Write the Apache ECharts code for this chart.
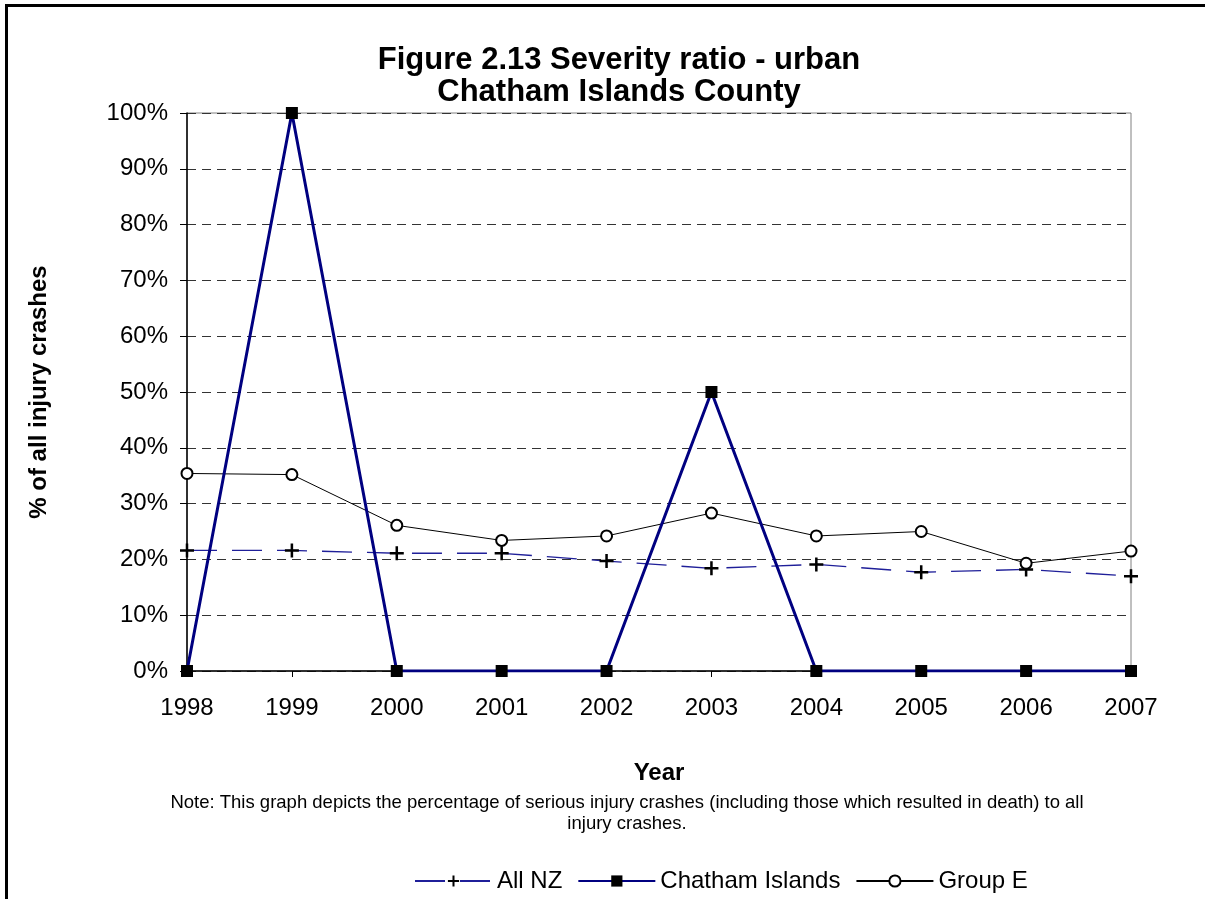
<!DOCTYPE html>
<html>
<head>
<meta charset="utf-8">
<script src="https://cdn.jsdelivr.net/npm/echarts@6/dist/echarts.min.js"></script>
<style>
html,body{margin:0;padding:0;background:#fff;}
#chart{width:1205px;height:899px;}
</style>
</head>
<body>
<div id="chart"></div>
<script>
const years = ['1998','1999','2000','2001','2002','2003','2004','2005','2006','2007'];
const allNZ = [21.6, 21.6, 21.1, 21.1, 19.7, 18.4, 19.1, 17.7, 18.2, 17.0];
const chatham = [0, 100, 0, 0, 0, 50, 0, 0, 0, 0];
const groupE = [35.4, 35.2, 26.1, 23.4, 24.2, 28.3, 24.2, 25.0, 19.3, 21.5];
const yTicks = [0,10,20,30,40,50,60,70,80,90,100];

const FONT = 'Liberation Sans, Arial, sans-serif';
const plusPath = 'path://M4.1,0 H5.9 V4.1 H10 V5.9 H5.9 V10 H4.1 V5.9 H0 V4.1 H4.1 Z';

const chart = echarts.init(document.getElementById('chart'));
chart.setOption({
  backgroundColor: '#fff',
  animation: false,
  textStyle: {fontFamily: FONT},
  title: {
    text: 'Figure 2.13 Severity ratio - urban\nChatham Islands County',
    left: 614, top: 39, textAlign: 'center',
    textStyle: {fontFamily: FONT, fontSize: 31, fontWeight: 'bold', color: '#000', lineHeight: 32}
  },
  grid: {left: 187, right: 74, top: 113, bottom: 228, show: true, borderColor: '#808080', borderWidth: 1, backgroundColor: 'transparent'},
  legend: {
    left: 409, top: 864,
    itemWidth: 77, itemHeight: 14, itemGap: 15,
    textStyle: {fontFamily: FONT, fontSize: 24, color: '#000', padding: [0,0,0,0]},
    data: ['All NZ', 'Chatham Islands', 'Group E']
  },
  xAxis: {
    type: 'category', data: years, boundaryGap: false,
    name: 'Year', nameLocation: 'middle', nameGap: 90,
    nameTextStyle: {fontFamily: FONT, fontSize: 24, fontWeight: 'bold', color: '#000'},
    axisLine: {lineStyle: {color: '#000', width: 1.5}},
    axisTick: {show: true, alignWithLabel: true, length: 6, lineStyle: {color: '#000'}},
    axisLabel: {fontFamily: FONT, fontSize: 24, color: '#000', margin: 25},
    splitLine: {show: false}
  },
  yAxis: {
    type: 'value', min: 0, max: 100, interval: 10,
    name: '% of all injury crashes', nameLocation: 'middle', nameGap: 136,
    nameTextStyle: {fontFamily: FONT, fontSize: 24, fontWeight: 'bold', color: '#000'},
    axisLine: {show: true, lineStyle: {color: '#000', width: 1.5}},
    axisTick: {show: true, length: 7, lineStyle: {color: '#000'}},
    axisLabel: {fontFamily: FONT, fontSize: 24, color: '#000', margin: 19,
      formatter: function(v){ return yTicks.indexOf(v) >= 0 ? v + '%' : ''; }},
    splitLine: {show: true, lineStyle: {color: '#333', type: [9,6], width: 1}}
  },
  series: [
    {
      name: 'All NZ', type: 'line', data: allNZ, z: 3,
      symbol: plusPath, symbolSize: 14,
      itemStyle: {color: '#000'},
      lineStyle: {color: '#1f1f99', width: 1.3, type: [30,15]}
    },
    {
      name: 'Chatham Islands', type: 'line', data: chatham, z: 5,
      symbol: 'rect', symbolSize: 12,
      itemStyle: {color: '#000'},
      lineStyle: {color: '#000080', width: 3}
    },
    {
      name: 'Group E', type: 'line', data: groupE, z: 4,
      symbol: 'circle', symbolSize: 11,
      itemStyle: {color: '#fff', borderColor: '#000', borderWidth: 2},
      lineStyle: {color: '#000', width: 1}
    }
  ],
  graphic: [
    {type: 'line', shape: {x1: 5, y1: 5.5, x2: 1205, y2: 5.5}, style: {stroke: '#000', lineWidth: 3}},
    {type: 'line', shape: {x1: 6.5, y1: 4, x2: 6.5, y2: 899}, style: {stroke: '#000', lineWidth: 3}},
    {type: 'text', x: 627, y: 803, style: {
      text: 'Note: This graph depicts the percentage of serious injury crashes (including those which resulted in death) to all',
      font: '18.5px ' + FONT, fill: '#000', textAlign: 'center', textVerticalAlign: 'middle'}},
    {type: 'text', x: 627, y: 824, style: {
      text: 'injury crashes.',
      font: '18.5px ' + FONT, fill: '#000', textAlign: 'center', textVerticalAlign: 'middle'}}
  ]
});
</script>
</body>
</html>
